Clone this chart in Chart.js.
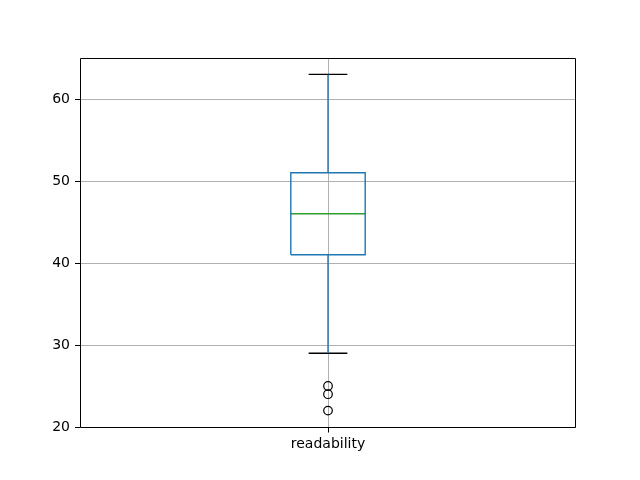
<!DOCTYPE html>
<html>
<head>
<meta charset="utf-8">
<script src="https://cdn.jsdelivr.net/npm/chart.js@4/dist/chart.umd.min.js"></script>
<style>
  html, body { margin: 0; padding: 0; background: #fff; }
  #wrap { width: 640px; height: 480px; }
</style>
</head>
<body>
<div id="wrap"><canvas id="boxChart"></canvas></div>
<script>
// data
const categories = ['readability'];
const whiskerLow = [29];
const q1 = [41];
const median = [46];
const q3 = [51];
const whiskerHigh = [63];
const outliers = [[25, 24, 22]];
const yTicks = [20, 30, 40, 50, 60];

const boxWidth = 0.15;
const capWidth = 0.078;

const boxLines = [], whiskers = [], caps = [], medians = [], fliers = [];
categories.forEach((c, i) => {
  const x = i + 1, h = boxWidth / 2, k = capWidth / 2;
  boxLines.push({x: x - h, y: q1[i]}, {x: x + h, y: q1[i]}, {x: x + h, y: q3[i]},
                {x: x - h, y: q3[i]}, {x: x - h, y: q1[i]}, {x: NaN, y: NaN});
  whiskers.push({x: x, y: q1[i]}, {x: x, y: whiskerLow[i]}, {x: NaN, y: NaN},
                {x: x, y: q3[i]}, {x: x, y: whiskerHigh[i]}, {x: NaN, y: NaN});
  caps.push({x: x - k, y: whiskerLow[i]}, {x: x + k, y: whiskerLow[i]}, {x: NaN, y: NaN},
            {x: x - k, y: whiskerHigh[i]}, {x: x + k, y: whiskerHigh[i]}, {x: NaN, y: NaN});
  medians.push({x: x - h, y: median[i]}, {x: x + h, y: median[i]}, {x: NaN, y: NaN});
  outliers[i].forEach(v => fliers.push({x: x, y: v}));
});

const lineSet = (data, color) => ({
  data: data, showLine: true, borderColor: color, borderWidth: 1.4,
  pointRadius: 0, spanGaps: false, fill: false
});

// four spines plus the x tick marks
const frame = {
  id: 'frame',
  afterDatasetsDraw(chart) {
    const a = chart.chartArea, c = chart.ctx, sx = chart.scales.x;
    const l = Math.round(a.left) + 0.5, r = Math.round(a.right) - 0.5;
    const t = Math.round(a.top) + 0.5, b = Math.round(a.bottom) + 0.5;
    c.save();
    c.strokeStyle = '#000';
    c.lineWidth = 1;
    c.beginPath();
    c.rect(l, t, r - l, b - t);
    categories.forEach((cat, i) => {
      const px = Math.round(sx.getPixelForValue(i + 1)) + 0.5;
      c.moveTo(px, b);
      c.lineTo(px, b + 5);
    });
    c.stroke();
    c.restore();
  }
};

Chart.defaults.font.family = 'DejaVu Sans';
Chart.defaults.font.size = 14;
Chart.defaults.color = '#000';

new Chart(document.getElementById('boxChart').getContext('2d'), {
  type: 'scatter',
  data: {
    datasets: [
      lineSet(whiskers, '#1f77b4'),
      lineSet(boxLines, '#1f77b4'),
      lineSet(caps, '#000000'),
      lineSet(medians, '#2ca02c'),
      {
        data: fliers, pointRadius: 4.3, pointStyle: 'circle',
        borderColor: '#000', backgroundColor: 'rgba(0,0,0,0)', borderWidth: 1.2
      }
    ]
  },
  options: {
    responsive: true,
    maintainAspectRatio: false,
    animation: false,
    layout: { padding: { left: 0, top: 58, right: 64, bottom: 0 } },
    plugins: { legend: { display: false }, tooltip: { enabled: false } },
    scales: {
      x: {
        type: 'linear', min: 0.5, max: categories.length + 0.5,
        afterBuildTicks: ax => { ax.ticks = categories.map((c, i) => ({value: i + 1})); },
        afterFit: ax => { ax.height = 53; },
        ticks: { callback: v => categories[v - 1], padding: 9, maxRotation: 0 },
        grid: { color: '#b0b0b0', lineWidth: 1, drawTicks: false },
        border: { display: false }
      },
      y: {
        min: 20, max: 65,
        afterBuildTicks: ax => { ax.ticks = yTicks.map(v => ({value: v})); },
        afterFit: ax => { ax.width = 80; },
        ticks: { padding: 5 },
        grid: { color: '#b0b0b0', lineWidth: 1, tickColor: '#000', tickLength: 5 },
        border: { display: false }
      }
    }
  },
  plugins: [frame]
});
</script>
</body>
</html>
